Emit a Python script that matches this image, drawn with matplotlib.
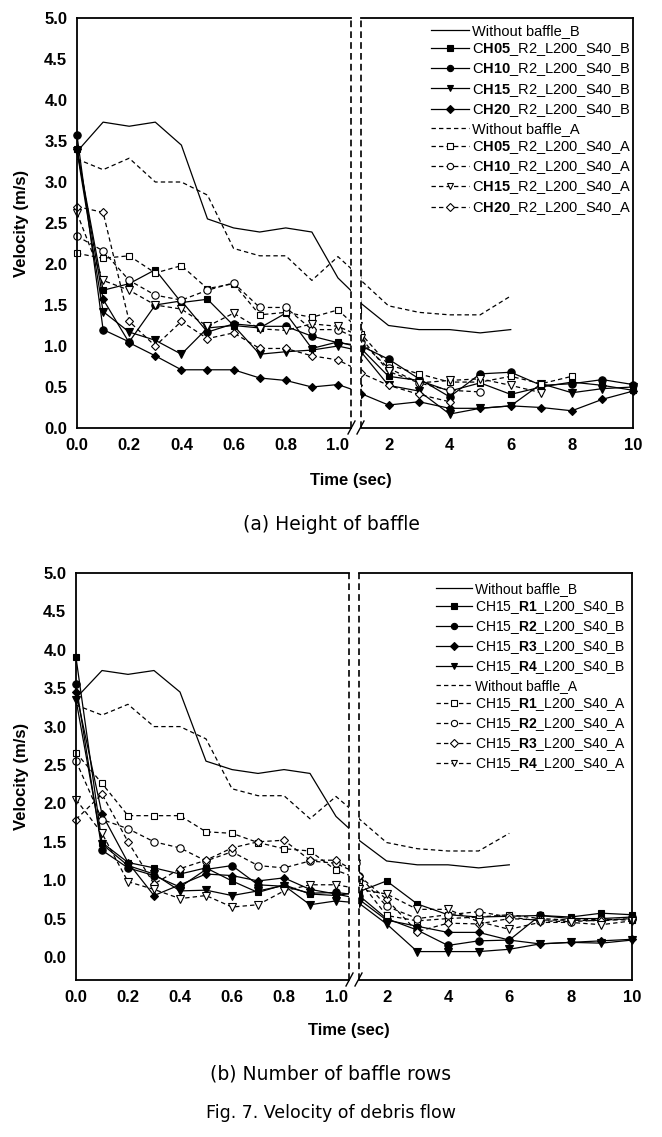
import numpy as np
import matplotlib
matplotlib.use('Agg')
import matplotlib.pyplot as plt
from matplotlib.lines import Line2D
from matplotlib.patches import Rectangle

plt.rcParams['font.family'] = 'Liberation Sans'
plt.rcParams['mathtext.fontset'] = 'custom'
plt.rcParams['mathtext.rm'] = 'Liberation Sans'
plt.rcParams['mathtext.bf'] = 'Liberation Sans:bold'

nan = np.nan

# time axis: 0..1.0 (left part), point at the break, 2..10 (right part)
time = [0.0, 0.1, 0.2, 0.3, 0.4, 0.5, 0.6, 0.7, 0.8, 0.9, 1.0, 1.1,
        2, 3, 4, 5, 6, 7, 8, 9, 10]
left_ticks = [0.0, 0.2, 0.4, 0.6, 0.8, 1.0]
right_ticks = [2, 4, 6, 8, 10]
y_ticks = [0.0, 0.5, 1.0, 1.5, 2.0, 2.5, 3.0, 3.5, 4.0, 4.5, 5.0]

# without baffle (same in both panels)
nob_B = [3.37, 3.73, 3.68, 3.73, 3.45, 2.55, 2.44, 2.39, 2.44, 2.39, 1.83, 1.52,
         1.25, 1.20, 1.20, 1.16, 1.20, nan, nan, nan, nan]
nob_A = [3.28, 3.15, 3.29, 3.00, 3.00, 2.84, 2.19, 2.10, 2.10, 1.80, 2.09, 1.80,
         1.49, 1.41, 1.38, 1.38, 1.61, nan, nan, nan, nan]

# (a) height of baffle
a_ch05_B = [3.40, 1.68, 1.76, 1.93, 1.53, 1.57, 1.25, 1.22, 1.40, 0.97, 1.05, 0.97,
            0.63, 0.58, 0.45, 0.55, 0.41, 0.50, 0.56, 0.52, 0.46]
a_ch10_B = [3.57, 1.20, 1.05, 1.50, 1.55, 1.17, 1.27, 1.24, 1.24, 1.12, 1.04, 1.00,
            0.84, 0.60, 0.38, 0.66, 0.68, 0.52, 0.54, 0.59, 0.53]
a_ch15_B = [3.38, 1.42, 1.17, 1.07, 0.90, 1.22, 1.25, 0.90, 0.93, 0.95, 1.00, 0.93,
            0.52, 0.45, 0.17, 0.24, 0.27, 0.54, 0.43, 0.48, 0.50]
a_ch20_B = [3.40, 1.57, 1.04, 0.88, 0.71, 0.71, 0.71, 0.61, 0.58, 0.50, 0.53, 0.42,
            0.28, 0.32, 0.24, 0.24, 0.27, 0.25, 0.21, 0.35, 0.45]
a_ch05_A = [2.13, 2.07, 2.10, 1.89, 1.98, 1.70, 1.76, 1.38, 1.41, 1.35, 1.44, 1.15,
            0.77, 0.66, 0.56, 0.56, 0.63, 0.54, 0.63, nan, nan]
a_ch10_A = [2.34, 2.16, 1.80, 1.62, 1.56, 1.68, 1.77, 1.47, 1.47, 1.20, 1.20, 1.05,
            0.73, 0.55, 0.46, 0.44, nan, nan, nan, nan, nan]
a_ch15_A = [2.62, 1.80, 1.68, 1.50, 1.45, 1.24, 1.40, 1.21, 1.19, 1.27, 1.24, 1.10,
            0.69, 0.55, 0.58, 0.60, 0.52, 0.43, nan, nan, nan]
a_ch20_A = [2.70, 2.63, 1.30, 1.00, 1.30, 1.09, 1.16, 0.97, 0.97, 0.88, 0.83, 0.67,
            0.52, 0.41, 0.32, nan, nan, nan, nan, nan, nan]
a_labels = ['Without baffle_B',
            r'C$\mathbf{H05}$_R2_L200_S40_B', r'C$\mathbf{H10}$_R2_L200_S40_B',
            r'C$\mathbf{H15}$_R2_L200_S40_B', r'C$\mathbf{H20}$_R2_L200_S40_B',
            'Without baffle_A',
            r'C$\mathbf{H05}$_R2_L200_S40_A', r'C$\mathbf{H10}$_R2_L200_S40_A',
            r'C$\mathbf{H15}$_R2_L200_S40_A', r'C$\mathbf{H20}$_R2_L200_S40_A']
a_markers = ['s', 'o', 'v', 'D']

# (b) number of baffle rows
b_r1_B = [3.90, 1.49, 1.23, 1.16, 1.08, 1.16, 0.99, 0.84, 0.94, 0.82, 0.80, 0.85,
          0.99, 0.69, 0.55, 0.52, 0.53, 0.54, 0.52, 0.57, 0.55]
b_r2_B = [3.55, 1.39, 1.16, 1.06, 0.91, 1.14, 1.19, 0.94, 0.92, 0.83, 0.84, 0.80,
          0.50, 0.35, 0.15, 0.21, 0.22, 0.54, 0.50, 0.50, 0.52]
b_r3_B = [3.45, 1.86, 1.23, 0.80, 0.94, 1.08, 1.06, 0.99, 1.03, 0.88, 0.82, 0.75,
          0.48, 0.40, 0.32, 0.32, 0.22, 0.17, 0.19, 0.21, 0.23]
b_r4_B = [3.35, 1.47, 1.19, 1.08, 0.86, 0.87, 0.80, 0.86, 0.93, 0.68, 0.73, 0.70,
          0.43, 0.07, 0.07, 0.07, 0.10, 0.17, 0.19, 0.18, 0.22]
b_r1_A = [2.66, 2.26, 1.84, 1.84, 1.84, 1.63, 1.61, 1.49, 1.41, 1.38, 1.13, 1.00,
          0.54, 0.47, 0.50, 0.52, 0.55, 0.50, 0.48, 0.49, 0.48]
b_r2_A = [2.55, 1.79, 1.67, 1.50, 1.42, 1.25, 1.37, 1.19, 1.16, 1.25, 1.22, 1.06,
          0.66, 0.50, 0.55, 0.59, 0.52, 0.47, 0.46, 0.48, 0.50]
b_r3_A = [1.79, 2.12, 1.50, 0.95, 1.15, 1.26, 1.42, 1.50, 1.52, 1.26, 1.26, 1.06,
          0.75, 0.33, 0.44, 0.43, 0.50, 0.48, 0.48, 0.47, 0.50]
b_r4_A = [2.05, 1.61, 0.98, 0.88, 0.76, 0.80, 0.65, 0.68, 0.86, 0.94, 0.94, 0.88,
          0.82, 0.62, 0.62, 0.46, 0.36, 0.45, 0.45, 0.42, 0.47]
b_labels = ['Without baffle_B',
            r'CH15_$\mathbf{R1}$_L200_S40_B', r'CH15_$\mathbf{R2}$_L200_S40_B',
            r'CH15_$\mathbf{R3}$_L200_S40_B', r'CH15_$\mathbf{R4}$_L200_S40_B',
            'Without baffle_A',
            r'CH15_$\mathbf{R1}$_L200_S40_A', r'CH15_$\mathbf{R2}$_L200_S40_A',
            r'CH15_$\mathbf{R3}$_L200_S40_A', r'CH15_$\mathbf{R4}$_L200_S40_A']
b_markers = ['s', 'o', 'D', 'v']

W, H = 662, 1137
fig = plt.figure(figsize=(W / 100, H / 100), dpi=100)

DASH = (3.5, 2.5)
MSIZE = {'s': 5.0, 'o': 5.3, 'v': 5.6, 'D': 4.4}


def styles(markers):
    # (marker, filled, dashed) for the 10 series in legend order
    return [(None, True, False)] + [(m, True, False) for m in markers] + \
           [(None, False, True)] + [(m, False, True) for m in markers]


def draw_panel(px_left, px_top, px_bottom, px_break, px_right_start, px_right,
               ymin, series, labels, markers, legend_anchor, legend_fs):
    bottom = 1 - px_bottom / H
    height = (px_bottom - px_top) / H
    axl = fig.add_axes([px_left / W, bottom, (px_break - px_left) / W, height])
    axr = fig.add_axes([px_right_start / W, bottom, (px_right - px_right_start) / W, height])

    handles = []
    for ys, (mk, filled, dashed), lab in zip(series, styles(markers), labels):
        kw = dict(color='black', lw=0.9)
        if mk is not None:
            kw.update(marker=mk, markersize=MSIZE[mk],
                      markerfacecolor='black' if filled else 'white',
                      markeredgecolor='black', markeredgewidth=0.8)
        if dashed:
            kw.update(linestyle='--', dashes=DASH)
        for ax, rect in ((axl, (-0.05, -0.05, 1.05, 1.1)), (axr, (0.0, -0.05, 1.05, 1.1))):
            ln, = ax.plot(time, ys, **kw)
            clip = Rectangle(rect[:2], rect[2], rect[3], transform=ax.transAxes)
            ln.set_clip_path(clip)
        handles.append(Line2D([], [], label=lab, **kw))

    axl.set_xlim(0, 1.05)
    axr.set_xlim(1.1, 10)
    for ax in (axl, axr):
        ax.set_ylim(ymin, 5.0)
        ax.tick_params(length=0, pad=7)
        for s in ax.spines.values():
            s.set_linewidth(1.3)
    axl.spines['right'].set_visible(False)
    axr.spines['left'].set_visible(False)
    axr.set_yticks([])

    axl.set_yticks(y_ticks)
    axl.set_yticklabels(['%.1f' % v for v in y_ticks], fontweight='bold', fontsize=12)
    axl.set_xticks(left_ticks)
    axl.set_xticklabels(['%.1f' % v for v in left_ticks], fontweight='bold', fontsize=12)
    axr.set_xticks(right_ticks)
    axr.set_xticklabels([str(v) for v in right_ticks], fontweight='bold', fontsize=12)

    # dashed lines at the axis break
    axl.plot([1, 1], [0, 1], transform=axl.transAxes, color='black', lw=1.2,
             linestyle=(0, (4, 2.5)), clip_on=False)
    axr.plot([0, 0], [0, 1], transform=axr.transAxes, color='black', lw=1.2,
             linestyle=(0, (4, 2.5)), clip_on=False)
    # "//" break marks
    for dx in (-5, 4):
        xm = (px_break + px_right_start) / 2 + dx
        fig.add_artist(Line2D([(xm - 3) / W, (xm + 4) / W],
                              [1 - (px_bottom + 6) / H, 1 - (px_bottom - 7) / H],
                              color='black', lw=1.0))

    axr.legend(handles=handles, loc='upper right', bbox_to_anchor=legend_anchor,
               bbox_transform=fig.transFigure, frameon=False, fontsize=legend_fs,
               borderpad=0, borderaxespad=0, handlelength=2.6, markerscale=0.85,
               handletextpad=0.2, labelspacing=0.22, numpoints=1)
    return axl, axr


a_series = [nob_B, a_ch05_B, a_ch10_B, a_ch15_B, a_ch20_B,
            nob_A, a_ch05_A, a_ch10_A, a_ch15_A, a_ch20_A]
b_series = [nob_B, b_r1_B, b_r2_B, b_r3_B, b_r4_B,
            nob_A, b_r1_A, b_r2_A, b_r3_A, b_r4_A]

draw_panel(77, 18, 428, 351, 361, 633, 0.0, a_series, a_labels, a_markers,
           (631 / W, 1 - 24 / H), 10.5)
draw_panel(76, 573, 980, 349, 359, 632, -0.3, b_series, b_labels, b_markers,
           (626 / W, 1 - 582 / H), 10)

# axis titles
for yc in (223, 776):
    fig.text(22 / W, 1 - yc / H, 'Velocity (m/s)', rotation=90, ha='center', va='center',
             fontsize=12, fontweight='bold')
fig.text(351 / W, 1 - 480 / H, 'Time (sec)', ha='center', va='center',
         fontsize=12, fontweight='bold')
fig.text(349 / W, 1 - 1030 / H, 'Time (sec)', ha='center', va='center',
         fontsize=12, fontweight='bold')

# captions
fig.text(331 / W, 1 - 524 / H, '(a) Height of baffle', ha='center', va='center',
         fontsize=13.5, family='DejaVu Sans')
fig.text(331 / W, 1 - 1074 / H, '(b) Number of baffle rows', ha='center', va='center',
         fontsize=13.5, family='DejaVu Sans')
fig.text(331 / W, 1 - 1113 / H, 'Fig. 7. Velocity of debris flow', ha='center', va='center',
         fontsize=12.5, family='DejaVu Sans')

fig.savefig('out.png', dpi=100)
